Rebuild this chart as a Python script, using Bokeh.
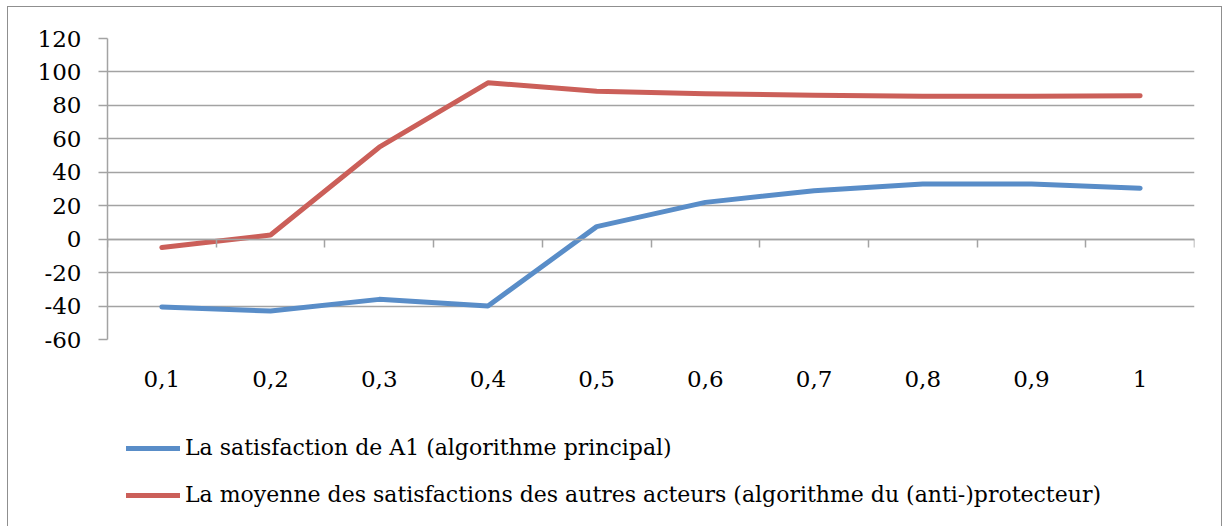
import numpy as np
from bokeh.plotting import figure
from bokeh.layouts import column
from bokeh.models import Range1d, FixedTicker, LinearAxis, Legend, LegendItem
from bokeh.embed import file_html
from bokeh.resources import INLINE

categories = ["0,1", "0,2", "0,3", "0,4", "0,5", "0,6", "0,7", "0,8", "0,9", "1"]
satisfaction_a1 = [-40.5, -43.0, -36.0, -40.0, 7.5, 22.0, 29.0, 33.0, 33.0, 30.5]
moyenne_autres = [-5.0, 2.5, 55.0, 93.5, 88.5, 87.0, 86.0, 85.5, 85.5, 85.8]
y_ticks = [-60, -40, -20, 0, 20, 40, 60, 80, 100, 120]
series_names = [
    "La satisfaction de A1 (algorithme principal)",
    "La moyenne des satisfactions des autres acteurs (algorithme du (anti-)protecteur)",
]

FONT = "DejaVu Serif"
FS = "23px"
GRID = "#a3a3a3"
BLUE = "#598dc8"
RED = "#cb5f59"
colors = [BLUE, RED]
LW = 5

n = len(categories)
x = np.arange(n) + 0.5
series = [satisfaction_a1, moyenne_autres]

p = figure(
    width=1213, height=400,
    x_range=Range1d(0, n), y_range=Range1d(min(y_ticks), max(y_ticks)),
    output_backend="svg", toolbar_location=None,
    min_border_left=99, min_border_right=27, min_border_top=31, min_border_bottom=68,
)
p.outline_line_color = None

# y axis
p.yaxis.ticker = FixedTicker(ticks=y_ticks)
p.yaxis.major_label_overrides = {v: str(v) for v in y_ticks}
p.yaxis.major_tick_out = 9
p.yaxis.major_tick_in = 0
p.yaxis.minor_tick_line_color = None
p.yaxis.axis_line_color = GRID
p.yaxis.axis_line_width = 1.5
p.yaxis.major_tick_line_color = GRID
p.yaxis.major_tick_line_width = 1.5
p.yaxis.major_label_standoff = 17
p.yaxis.major_label_text_font = FONT
p.yaxis.major_label_text_font_size = FS
p.yaxis.major_label_text_color = "black"

p.ygrid.ticker = FixedTicker(ticks=y_ticks)
p.ygrid.grid_line_color = GRID
p.ygrid.grid_line_width = 1.5
p.xgrid.visible = False

# category labels (bottom)
p.xaxis.ticker = FixedTicker(ticks=list(x))
p.xaxis.major_label_overrides = {float(xi): c for xi, c in zip(x, categories)}
p.xaxis.axis_line_color = None
p.xaxis.major_tick_line_color = None
p.xaxis.minor_tick_line_color = None
p.xaxis.major_label_standoff = 25
p.xaxis.major_label_text_font = FONT
p.xaxis.major_label_text_font_size = FS
p.xaxis.major_label_text_color = "black"

# category axis crossing at zero
bounds = list(range(n + 1))
zero_axis = LinearAxis(
    fixed_location=0,
    ticker=FixedTicker(ticks=bounds),
    major_label_overrides={b: "" for b in bounds},
    major_tick_out=8, major_tick_in=0,
    major_tick_line_color=GRID, major_tick_line_width=1.5,
    minor_tick_line_color=None,
    axis_line_color=GRID, axis_line_width=1.5,
    major_label_standoff=0,
)
p.add_layout(zero_axis, "below")

for vals, c in zip(series, colors):
    p.line(x, vals, line_color=c, line_width=LW, line_join="round", line_cap="round")

# legend strip (its lines lie outside its own view; only the legend shows)
p2 = figure(
    width=1213, height=120, x_range=Range1d(-1000, -999), y_range=Range1d(-1000, -999),
    output_backend="svg", toolbar_location=None,
    min_border=0, outline_line_color=None,
)
p2.axis.visible = False
p2.grid.visible = False
items = []
for name, vals, c in zip(series_names, series, colors):
    r = p2.line(x, vals, line_color=c, line_width=LW, line_cap="round")
    items.append(LegendItem(label=name, renderers=[r]))
legend = Legend(
    items=items, location=(19, 20), orientation="vertical",
    border_line_color=None, background_fill_alpha=0,
    padding=0, spacing=22, glyph_width=54, glyph_height=20, label_standoff=5,
    label_text_font=FONT, label_text_font_size="22px", label_text_color="black",
)
p2.add_layout(legend, "center")

layout = column(p, p2, spacing=0)
layout.styles = {"margin-left": "7px", "margin-top": "6px",
                 "border-left": "1.5px solid #8f8f8f", "border-top": "1.5px solid #8f8f8f",
                 "border-right": "1.5px solid #8f8f8f"}

open("out.html", "w").write(file_html(layout, INLINE))
